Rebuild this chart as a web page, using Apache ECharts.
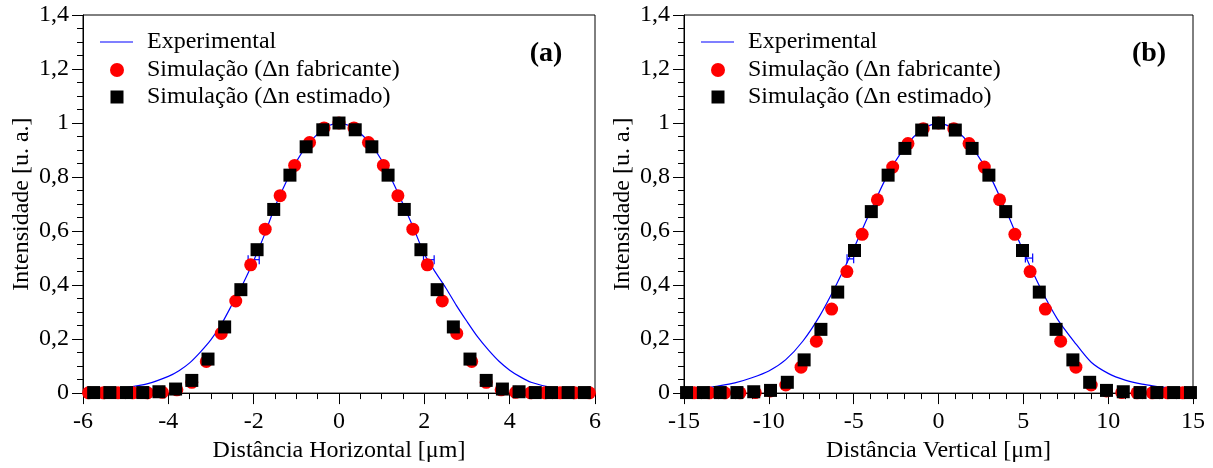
<!DOCTYPE html>
<html><head><meta charset="utf-8">
<script src="https://cdn.jsdelivr.net/npm/echarts@6/dist/echarts.min.js"></script>
<style>html,body{margin:0;padding:0;background:#fff}#c{width:1213px;height:468px}</style>
</head><body><div id="c"></div>
<script>
// ---------- Panel (a): horizontal profile ----------
const expA_x = [-6,-5.5,-5,-4.5,-4,-3.75,-3.5,-3.25,-3,-2.75,-2.5,-2.25,-2,-1.75,-1.5,-1.25,-1,-0.75,-0.5,-0.25,0,0.25,0.5,0.75,1,1.25,1.5,1.75,2,2.25,2.5,2.75,3,3.25,3.5,3.75,4,4.25,4.5,5,5.5,6];
const expA_y = [0.003,0.01,0.02,0.034,0.062,0.083,0.112,0.152,0.198,0.257,0.33,0.405,0.49,0.585,0.69,0.778,0.857,0.916,0.96,0.99,1.0,0.99,0.962,0.92,0.862,0.785,0.7,0.61,0.515,0.45,0.39,0.325,0.265,0.208,0.16,0.118,0.085,0.06,0.04,0.02,0.01,0.004];
const fabA_x = [-5.87,-5.52,-5.18,-4.83,-4.49,-4.14,-3.8,-3.45,-3.11,-2.76,-2.42,-2.07,-1.73,-1.38,-1.04,-0.69,-0.35,0,0.35,0.69,1.04,1.38,1.73,2.07,2.42,2.76,3.11,3.45,3.8,4.14,4.49,4.83,5.18,5.52,5.87];
const fabA_y = [0.001,0.001,0.001,0.001,0.001,0.003,0.012,0.04,0.117,0.221,0.341,0.475,0.607,0.731,0.843,0.928,0.982,1.0,0.982,0.928,0.843,0.731,0.607,0.475,0.341,0.221,0.117,0.04,0.012,0.003,0.001,0.001,0.001,0.001,0.001];
const estA_x = [-5.75,-5.37,-4.98,-4.6,-4.22,-3.83,-3.45,-3.07,-2.68,-2.3,-1.92,-1.53,-1.15,-0.77,-0.38,0,0.38,0.77,1.15,1.53,1.92,2.3,2.68,3.07,3.45,3.83,4.22,4.6,4.98,5.37,5.75];
const estA_y = [0.002,0.002,0.002,0.002,0.005,0.015,0.047,0.126,0.245,0.383,0.531,0.68,0.807,0.912,0.975,1.0,0.975,0.912,0.807,0.68,0.531,0.383,0.245,0.126,0.047,0.015,0.005,0.002,0.002,0.002,0.002];
const errA_lo = [-2.13, 1.98];
const errA_hi = [-1.87, 2.23];
const errA_y  = [0.494, 0.494];

// ---------- Panel (b): vertical profile ----------
const expB_x = [-15,-14,-13,-12,-11,-10,-9,-8,-7,-6,-5,-4,-3,-2,-1,0,1,2,3,4,5,6,7,8,9,10,11,12,13,14,15];
const expB_y = [0.005,0.016,0.026,0.038,0.057,0.082,0.124,0.192,0.286,0.404,0.535,0.675,0.808,0.908,0.975,1.0,0.975,0.908,0.808,0.673,0.525,0.39,0.275,0.19,0.114,0.073,0.048,0.033,0.024,0.015,0.005];
const fabB_x = [-14.4,-13.5,-12.6,-11.7,-10.8,-9.9,-9.0,-8.1,-7.2,-6.3,-5.4,-4.5,-3.6,-2.7,-1.8,-0.9,0,0.9,1.8,2.7,3.6,4.5,5.4,6.3,7.2,8.1,9.0,9.9,10.8,11.7,12.6,13.5,14.4];
const fabB_y = [0.001,0.001,0.001,0.001,0.002,0.008,0.03,0.096,0.192,0.311,0.45,0.588,0.716,0.837,0.924,0.979,1.0,0.979,0.924,0.837,0.716,0.588,0.45,0.311,0.192,0.096,0.03,0.008,0.002,0.001,0.001,0.001,0.001];
const estB_x = [-14.85,-13.86,-12.87,-11.88,-10.89,-9.9,-8.91,-7.92,-6.93,-5.94,-4.95,-3.96,-2.97,-1.98,-0.99,0,0.99,1.98,2.97,3.96,4.95,5.94,6.93,7.92,8.91,9.9,10.89,11.88,12.87,13.86,14.85];
const estB_y = [0.002,0.002,0.002,0.002,0.005,0.01,0.04,0.123,0.236,0.374,0.528,0.672,0.807,0.906,0.974,1.0,0.974,0.906,0.807,0.672,0.528,0.374,0.236,0.123,0.04,0.01,0.005,0.002,0.002,0.002,0.002];
const errB_lo = [-5.39, 5.12];
const errB_hi = [-5.0, 5.55];
const errB_y  = [0.497, 0.5];

const names = ['Experimental', 'Simulação (Δn fabricante)', 'Simulação (Δn estimado)'];
const panelLetters = ['(a)', '(b)'];
const xTitles = ['Distância Horizontal [μm]', 'Distância Vertical [μm]'];
const yTitle = 'Intensidade [u. a.]';

const FONT = '"Liberation Serif","Times New Roman",serif';
const FS = 24;
const zip = (xs, ys) => xs.map((x, i) => [x, ys[i]]);
const yFmt = v => { const r = Math.round(v * 10) / 10; return Number.isInteger(r) ? String(r) : r.toFixed(1).replace('.', ','); };

const grids = [
  {left: 83, top: 15, width: 512, height: 381},
  {left: 684, top: 15, width: 509, height: 381}
];
const xCfg = [{min: -6, max: 6, interval: 2, minor: 4}, {min: -15, max: 15, interval: 5, minor: 5}];

const axisCommon = {
  axisLine: {show: true, onZero: false, lineStyle: {color: '#000', width: 1}},
  axisTick: {show: true, inside: false, length: 11, lineStyle: {color: '#000', width: 1}},
  minorTick: {show: true, length: 6, lineStyle: {color: '#000', width: 1}},
  splitLine: {show: false},
  axisLabel: {color: '#000', fontFamily: FONT, fontSize: FS},
  nameTextStyle: {color: '#000', fontFamily: FONT, fontSize: FS}
};

const xAxis = [], yAxis = [], series = [], legend = [], graphic = [];
[0, 1].forEach(p => {
  xAxis.push(Object.assign({}, axisCommon, {
    type: 'value', gridIndex: p, min: xCfg[p].min, max: xCfg[p].max, interval: xCfg[p].interval,
    minorTick: Object.assign({}, axisCommon.minorTick, {splitNumber: xCfg[p].minor}),
    axisLabel: Object.assign({}, axisCommon.axisLabel, {margin: 17}),
    name: xTitles[p], nameLocation: 'middle', nameGap: 45
  }));
  yAxis.push(Object.assign({}, axisCommon, {
    type: 'value', gridIndex: p, min: 0, max: 1.4, interval: 0.2,
    minorTick: Object.assign({}, axisCommon.minorTick, {splitNumber: 4}),
    axisLabel: Object.assign({}, axisCommon.axisLabel, {margin: 14, formatter: yFmt}),
    name: yTitle, nameLocation: 'middle', nameGap: 49
  }));
});

const panels = [
  {exp: zip(expA_x, expA_y), fab: zip(fabA_x, fabA_y), est: zip(estA_x, estA_y), err: errA_lo.map((l, i) => [l, errA_hi[i], errA_y[i]])},
  {exp: zip(expB_x, expB_y), fab: zip(fabB_x, fabB_y), est: zip(estB_x, estB_y), err: errB_lo.map((l, i) => [l, errB_hi[i], errB_y[i]])}
];

// legend icon for the line: thin horizontal bar centred in a 33x14 box (M-points fix the box)
const lineIcon = 'path://M0,0 M33,14 M0,6.4 L33,6.4 L33,7.6 L0,7.6 Z';

panels.forEach((d, p) => {
  series.push({
    type: 'line', name: names[0], xAxisIndex: p, yAxisIndex: p, data: d.exp,
    symbol: 'none', smooth: 0.25, lineStyle: {color: '#0000ff', width: 1.2}, itemStyle: {color: '#0000ff'},
    silent: true, z: 2
  });
  series.push({
    type: 'custom', name: 'err' + p, xAxisIndex: p, yAxisIndex: p, data: d.err,
    encode: {x: [0, 1], y: 2}, silent: true, z: 2,
    renderItem: (params, api) => {
      const a = api.coord([api.value(0), api.value(2)]);
      const b = api.coord([api.value(1), api.value(2)]);
      const h = 4.5, st = {stroke: '#0000ff', lineWidth: 1.2};
      return {type: 'group', children: [
        {type: 'line', shape: {x1: a[0], y1: a[1], x2: b[0], y2: b[1]}, style: st},
        {type: 'line', shape: {x1: a[0], y1: a[1] - h, x2: a[0], y2: a[1] + h}, style: st},
        {type: 'line', shape: {x1: b[0], y1: b[1] - h, x2: b[0], y2: b[1] + h}, style: st}
      ]};
    }
  });
  series.push({
    type: 'scatter', name: names[1], xAxisIndex: p, yAxisIndex: p, data: d.fab,
    symbol: 'circle', symbolSize: 13, itemStyle: {color: '#ff0000', opacity: 1}, silent: true, z: 3
  });
  series.push({
    type: 'scatter', name: names[2], xAxisIndex: p, yAxisIndex: p, data: d.est,
    symbol: 'rect', symbolSize: 13, itemStyle: {color: '#000000', opacity: 1}, silent: true, z: 4
  });

  const off = p === 0 ? 0 : 601;
  const lt = pad => ({color: '#000', fontFamily: FONT, fontSize: FS, padding: [0, 0, 0, pad]});
  legend.push({id: 'l0' + p, data: [{name: names[0], icon: lineIcon}], left: 100 + off, top: 30, orient: 'vertical', padding: 0,
    itemWidth: 33, itemHeight: 14, itemGap: 0, selectedMode: false, textStyle: lt(9)});
  legend.push({id: 'l1' + p, data: [names[1]], left: 110 + off, top: 58, orient: 'vertical', padding: 0,
    itemWidth: 14, itemHeight: 14, itemGap: 0, selectedMode: false, textStyle: lt(18)});
  legend.push({id: 'l2' + p, data: [names[2]], left: 110.5 + off, top: 85, orient: 'vertical', padding: 0,
    itemWidth: 13, itemHeight: 13, itemGap: 0, selectedMode: false, textStyle: lt(18.5)});

  graphic.push({type: 'text', x: (p === 0 ? 546 : 1149), y: 54,
    style: {text: panelLetters[p], font: 'bold 28px ' + FONT, fill: '#000', textAlign: 'center', textVerticalAlign: 'middle'}});
});

const chart = echarts.init(document.getElementById('c'), null, {renderer: 'canvas'});
chart.setOption({
  animation: false,
  backgroundColor: '#fff',
  grid: grids.map(g => Object.assign({show: true, borderColor: '#000', borderWidth: 1, backgroundColor: 'transparent'}, g)),
  xAxis, yAxis, series, legend, graphic
});
</script></body></html>
